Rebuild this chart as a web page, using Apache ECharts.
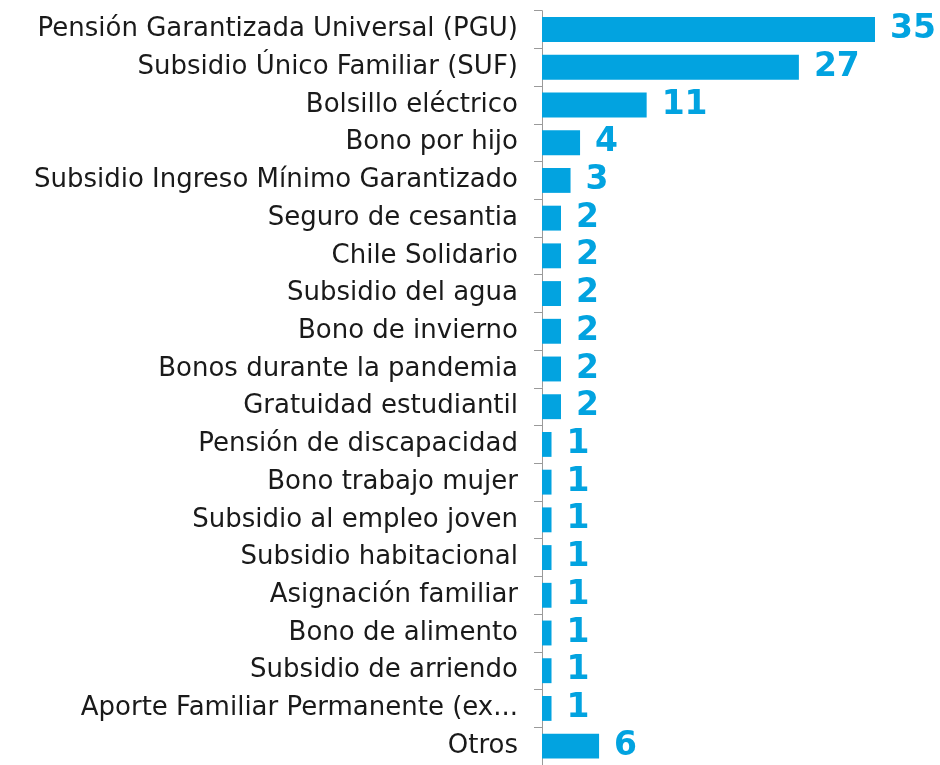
<!DOCTYPE html>
<html><head><meta charset="utf-8">
<script src="https://cdn.jsdelivr.net/npm/echarts@6/dist/echarts.min.js"></script>
<style>html,body{margin:0;padding:0;background:#fff}#c{width:940px;height:765px}</style>
</head><body><div id="c"></div>
<script>
const categories = [
  "Pensión Garantizada Universal (PGU)",
  "Subsidio Único Familiar (SUF)",
  "Bolsillo eléctrico",
  "Bono por hijo",
  "Subsidio Ingreso Mínimo Garantizado",
  "Seguro de cesantia",
  "Chile Solidario",
  "Subsidio del agua",
  "Bono de invierno",
  "Bonos durante la pandemia",
  "Gratuidad estudiantil",
  "Pensión de discapacidad",
  "Bono trabajo mujer",
  "Subsidio al empleo joven",
  "Subsidio habitacional",
  "Asignación familiar",
  "Bono de alimento",
  "Subsidio de arriendo",
  "Aporte Familiar Permanente (ex...",
  "Otros"
];
const values = [35, 27, 11, 4, 3, 2, 2, 2, 2, 2, 2, 1, 1, 1, 1, 1, 1, 1, 1, 6];

const chart = echarts.init(document.getElementById('c'), null, {renderer: 'canvas'});
chart.setOption({
  animation: false,
  grid: {left: 542, width: 333, top: 10.7, height: 758, containLabel: false},
  xAxis: {type: 'value', min: 0, max: 35, show: false},
  yAxis: {
    type: 'category', data: categories, inverse: true,
    axisLine: {show: true, lineStyle: {color: '#9a9a9a', width: 1}},
    axisTick: {show: true, length: 8, lineStyle: {color: '#9a9a9a'}},
    axisLabel: {color: '#1a1a1a', fontSize: 26, fontFamily: 'DejaVu Sans', margin: 24}
  },
  series: [{
    type: 'bar', data: values, barCategoryGap: '34%',
    itemStyle: {color: '#02A3E0'},
    label: {show: true, position: 'right', distance: 15, color: '#02A3E0',
            fontSize: 33, fontWeight: 'bold', fontFamily: 'DejaVu Sans'}
  }]
});
</script></body></html>
